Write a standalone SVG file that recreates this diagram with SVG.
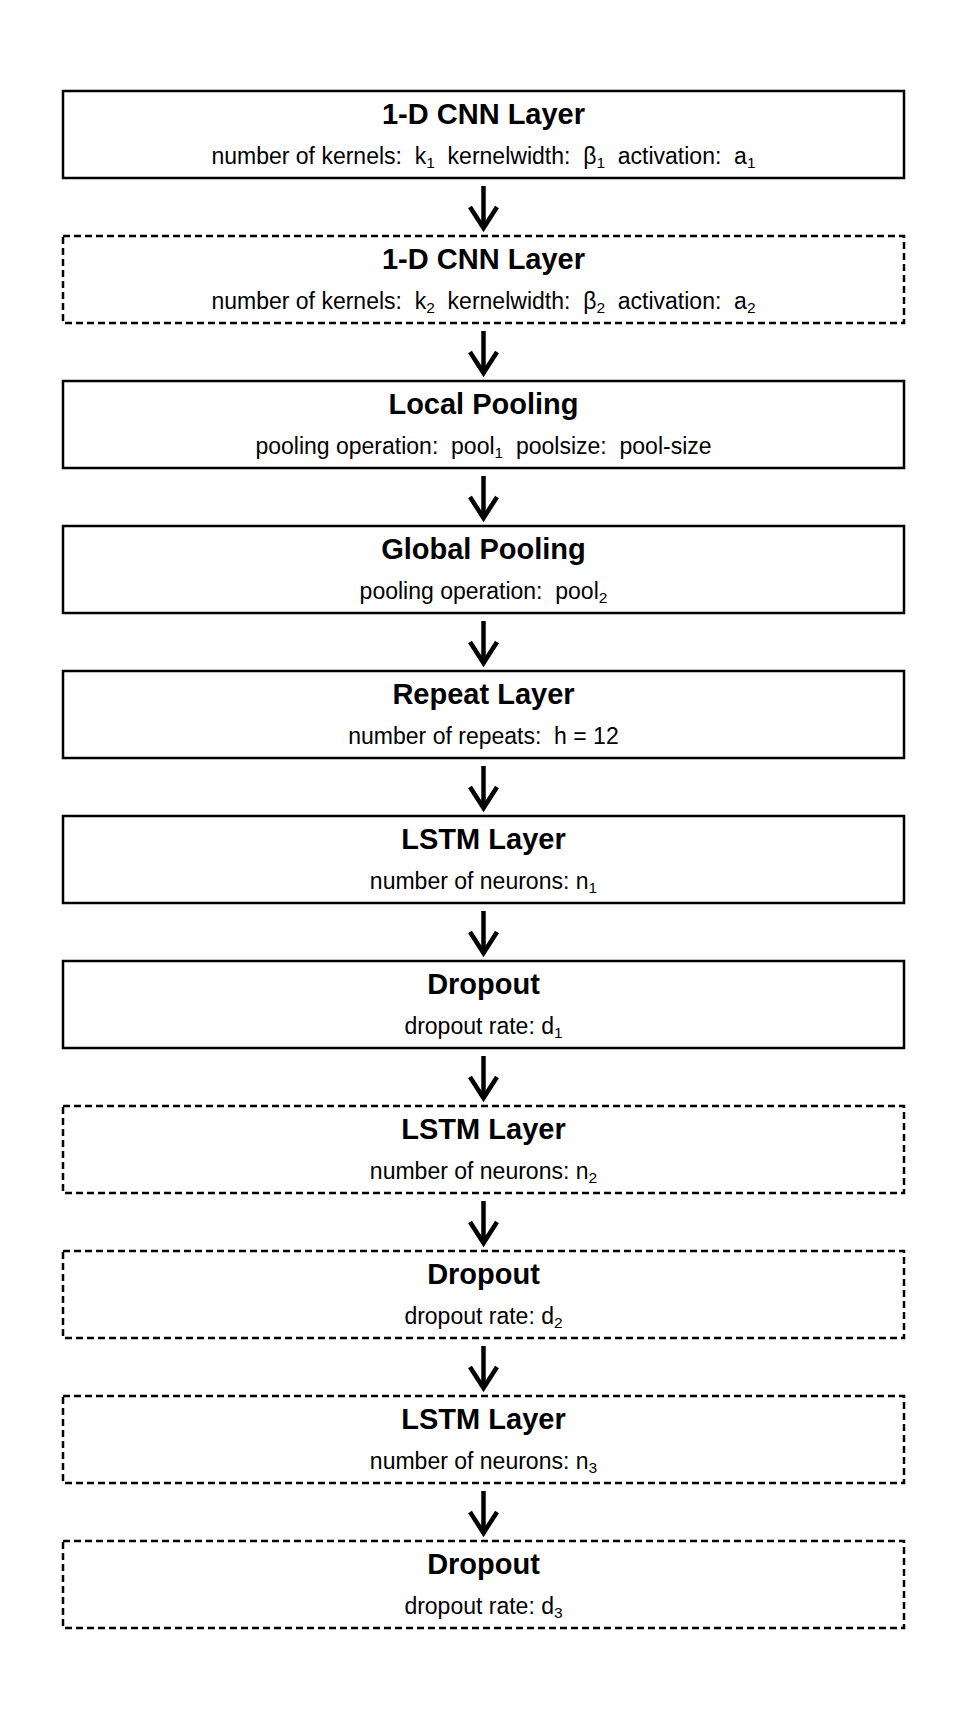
<svg xmlns="http://www.w3.org/2000/svg" width="960" height="1728" viewBox="0 0 960 1728">
<style>
.box{fill:#fff;stroke:#000;stroke-width:2.5}
.dash{stroke-dasharray:7,4}
.t{font-family:"Liberation Sans",Arial,sans-serif;font-weight:bold;font-size:29px;text-anchor:middle;fill:#000}
.s{font-family:"Liberation Sans",Arial,sans-serif;font-size:23px;text-anchor:middle;fill:#000}
.sub{font-size:15.5px}
.arr{stroke:#000;stroke-width:4.5;fill:none}
</style>
<defs>
<marker id="head" markerUnits="userSpaceOnUse" markerWidth="40" markerHeight="40" refX="0" refY="0" orient="auto" overflow="visible">
<path d="M-21,-13.5 L0,0 L-21,13.5" fill="none" stroke="#000" stroke-width="4.5" stroke-linejoin="miter"/>
</marker>
</defs>
<rect width="960" height="1728" fill="#fff"/>
<g id="connectors">
<path class="arr" d="M483.5,186 V228" marker-end="url(#head)"/>
<path class="arr" d="M483.5,331 V373" marker-end="url(#head)"/>
<path class="arr" d="M483.5,476 V518" marker-end="url(#head)"/>
<path class="arr" d="M483.5,621 V663" marker-end="url(#head)"/>
<path class="arr" d="M483.5,766 V808" marker-end="url(#head)"/>
<path class="arr" d="M483.5,911 V953" marker-end="url(#head)"/>
<path class="arr" d="M483.5,1056 V1098" marker-end="url(#head)"/>
<path class="arr" d="M483.5,1201 V1243" marker-end="url(#head)"/>
<path class="arr" d="M483.5,1346 V1388" marker-end="url(#head)"/>
<path class="arr" d="M483.5,1491 V1533" marker-end="url(#head)"/>
</g>
<g id="cnn1">
<rect class="box" x="63" y="91" width="841" height="87"/>
<text class="t" x="483.5" y="124">1-D CNN Layer</text>
<text class="s" x="483.5" y="164" xml:space="preserve">number of kernels:  k<tspan class="sub" dy="4">1</tspan><tspan dy="-4">  kernelwidth:  β</tspan><tspan class="sub" dy="4">1</tspan><tspan dy="-4">  activation:  a</tspan><tspan class="sub" dy="4">1</tspan></text>
</g>
<g id="cnn2">
<rect class="box dash" x="63" y="236" width="841" height="87"/>
<text class="t" x="483.5" y="269">1-D CNN Layer</text>
<text class="s" x="483.5" y="309" xml:space="preserve">number of kernels:  k<tspan class="sub" dy="4">2</tspan><tspan dy="-4">  kernelwidth:  β</tspan><tspan class="sub" dy="4">2</tspan><tspan dy="-4">  activation:  a</tspan><tspan class="sub" dy="4">2</tspan></text>
</g>
<g id="localpool">
<rect class="box" x="63" y="381" width="841" height="87"/>
<text class="t" x="483.5" y="414">Local Pooling</text>
<text class="s" x="483.5" y="454" xml:space="preserve">pooling operation:  pool<tspan class="sub" dy="4">1</tspan><tspan dy="-4">  poolsize:  pool-size</tspan></text>
</g>
<g id="globalpool">
<rect class="box" x="63" y="526" width="841" height="87"/>
<text class="t" x="483.5" y="559">Global Pooling</text>
<text class="s" x="483.5" y="599" xml:space="preserve">pooling operation:  pool<tspan class="sub" dy="4">2</tspan></text>
</g>
<g id="repeat">
<rect class="box" x="63" y="671" width="841" height="87"/>
<text class="t" x="483.5" y="704">Repeat Layer</text>
<text class="s" x="483.5" y="744" xml:space="preserve">number of repeats:  h = 12</text>
</g>
<g id="lstm1">
<rect class="box" x="63" y="816" width="841" height="87"/>
<text class="t" x="483.5" y="849">LSTM Layer</text>
<text class="s" x="483.5" y="889">number of neurons: n<tspan class="sub" dy="4">1</tspan></text>
</g>
<g id="dropout1">
<rect class="box" x="63" y="961" width="841" height="87"/>
<text class="t" x="483.5" y="994">Dropout</text>
<text class="s" x="483.5" y="1034">dropout rate: d<tspan class="sub" dy="4">1</tspan></text>
</g>
<g id="lstm2">
<rect class="box dash" x="63" y="1106" width="841" height="87"/>
<text class="t" x="483.5" y="1139">LSTM Layer</text>
<text class="s" x="483.5" y="1179">number of neurons: n<tspan class="sub" dy="4">2</tspan></text>
</g>
<g id="dropout2">
<rect class="box dash" x="63" y="1251" width="841" height="87"/>
<text class="t" x="483.5" y="1284">Dropout</text>
<text class="s" x="483.5" y="1324">dropout rate: d<tspan class="sub" dy="4">2</tspan></text>
</g>
<g id="lstm3">
<rect class="box dash" x="63" y="1396" width="841" height="87"/>
<text class="t" x="483.5" y="1429">LSTM Layer</text>
<text class="s" x="483.5" y="1469">number of neurons: n<tspan class="sub" dy="4">3</tspan></text>
</g>
<g id="dropout3">
<rect class="box dash" x="63" y="1541" width="841" height="87"/>
<text class="t" x="483.5" y="1574">Dropout</text>
<text class="s" x="483.5" y="1614">dropout rate: d<tspan class="sub" dy="4">3</tspan></text>
</g>
</svg>
